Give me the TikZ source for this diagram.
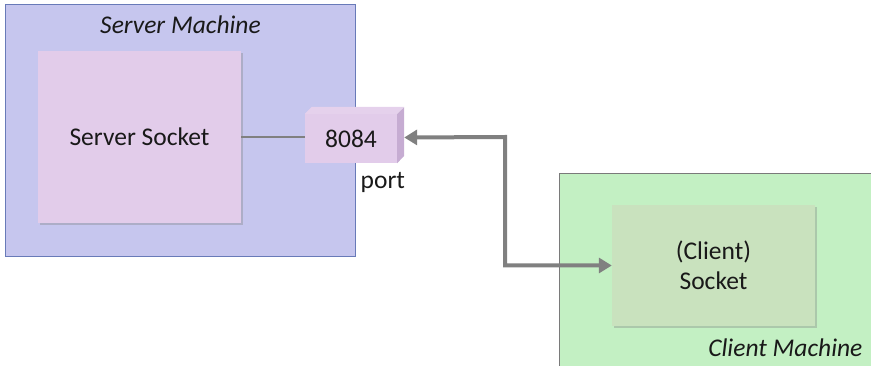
\documentclass[tikz,border=0pt]{standalone}
\usepackage{fontspec}
\setmainfont{Carlito}
\usepackage{tikz}
\usetikzlibrary{arrows.meta,positioning,calc,shadows}

\definecolor{srvbg}{RGB}{198,198,238}
\definecolor{srvline}{RGB}{104,122,184}
\definecolor{sock}{RGB}{226,204,234}
\definecolor{sockside}{RGB}{198,172,210}
\definecolor{clibg}{RGB}{195,240,195}
\definecolor{cliline}{RGB}{122,122,122}
\definecolor{clisock}{RGB}{201,226,190}
\definecolor{wire}{RGB}{128,128,128}
\definecolor{ink}{RGB}{25,25,25}

\begin{document}
\begin{tikzpicture}[
  x=1pt, y=-1pt,
  font=\fontsize{25.5}{30}\selectfont, text=ink,
  machine/.style={draw, line width=1pt, anchor=north west, inner sep=0pt},
  sockbox/.style={align=center, inner sep=0pt, drop shadow={shadow xshift=2pt, shadow yshift=-2pt, opacity=0.35}},
  link/.style={{Triangle[length=13pt,width=15pt]}-{Triangle[length=13pt,width=15pt]}, line width=4pt, draw=wire},
]
\useasboundingbox (0,0) rectangle (871,366);
% server side
\node[machine, fill=srvbg, draw=srvline, minimum width=350pt, minimum height=252pt] (server) at (5,4) {};
\node[font=\fontsize{25.5}{30}\selectfont\itshape, below=8pt of server.north] (srvlbl) {Server Machine};
\node[sockbox, fill=sock, minimum width=203pt, minimum height=172pt] (srvsock) at (139.5,137) {Server Socket};
% port block
\node[fill=sock, minimum width=92pt, minimum height=49pt, inner sep=0pt] (port) at (351,138.5) {8084};
\fill[sock!90!white] (port.north west) -- ++(7,-7) -- ++(92,0) -- (port.north east) -- cycle;
\fill[sockside] (port.north east) -- ++(7,-7) -- ++(0,49) -- (port.south east) -- cycle;
\coordinate (portR) at ($(port.east)+(7,-1)$);
\node[below right=6pt and -40pt of port.south east] (portlbl) {port};
% client side
\node[machine, fill=clibg, draw=cliline, minimum width=330pt, minimum height=210pt] (client) at (559,173) {};
\node[font=\fontsize{25.5}{30}\selectfont\itshape, anchor=east] (clilbl) at (866,348) {Client Machine};
\node[sockbox, fill=clisock, minimum width=203pt, minimum height=121pt] (clisock) at (713.5,265.5) {(Client)\\Socket};
% connectors
\draw[draw=wire, line width=2pt] (srvsock.east) -- (srvsock.east -| port.west);
\coordinate (turn) at (505,137);
\draw[link] (clisock.west) -| (turn) -- (portR);
\end{tikzpicture}
\end{document}
